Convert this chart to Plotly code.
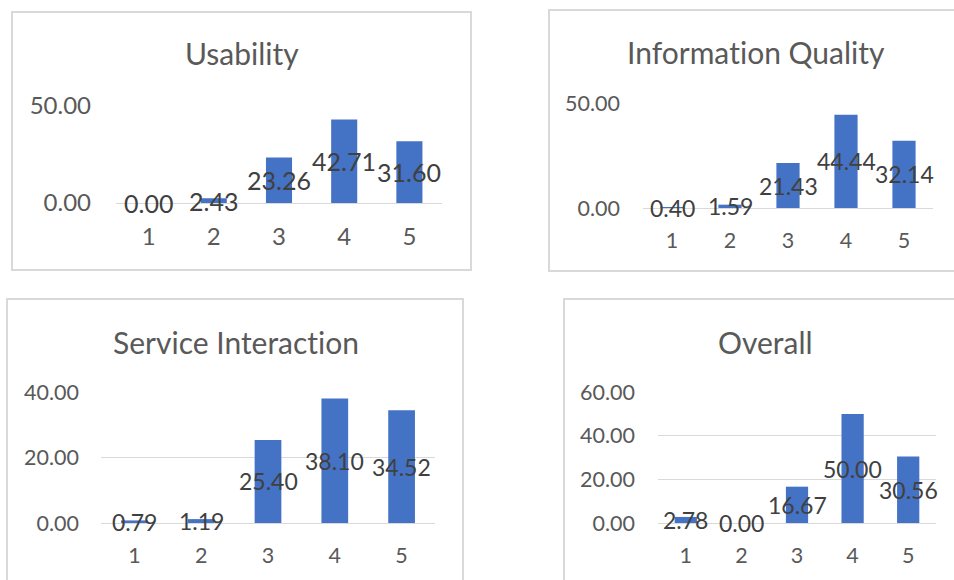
import plotly.graph_objects as go

W, H = 954, 580

# Rating scale shared by all four charts
ratings = [1, 2, 3, 4, 5]

# Percentage of responses per rating
usability = [0.00, 2.43, 23.26, 42.71, 31.60]
information_quality = [0.40, 1.59, 21.43, 44.44, 32.14]
service_interaction = [0.79, 1.19, 25.40, 38.10, 34.52]
overall = [2.78, 0.00, 16.67, 50.00, 30.56]

titles = ["Usability", "Information Quality", "Service Interaction", "Overall"]
series = [usability, information_quality, service_interaction, overall]
y_max = [50, 50, 40, 60]
y_step = [50, 50, 20, 20]

# Pixel layout of each chart: frame box, plot box, title centre
frames = [(12, 12, 471, 270), (549, 10, 962, 271), (7, 299, 463, 592), (564, 299, 962, 592)]
plots = [(116, 105, 442, 203), (643, 103, 933, 208), (101, 392, 435, 523), (658, 392, 936, 523)]
title_pos = [(242, 53), (756, 52), (236, 342), (765, 342)]
tick_size = [24, 21.5, 21.5, 21.5]
label_size = [25, 23, 23, 23]
y_standoff = [24, 22, 21, 22]

BAR = "#4472C4"
GRID = "#d9d9d9"
TICK = "#595959"
LABEL = "#404040"
FONT = "Lato"
TITLE_SIZE = 30


def px_x(v):
    return v / W


def px_y(v):
    return 1 - v / H


def no_ligature(s):
    # give each "t" before "i" its own text run so the font does not merge "ti"
    return s.replace("ti", f"<span style='font-size:{TITLE_SIZE - 0.1}px'>t</span>i")


fig = go.Figure()
layout = dict(
    width=W, height=H, margin=dict(l=0, r=0, t=0, b=0, pad=0, autoexpand=False),
    autosize=False,
    paper_bgcolor="white", plot_bgcolor="white",
    showlegend=False, font=dict(family=FONT, color=TICK),
    shapes=[], annotations=[],
)

for i, (name, vals) in enumerate(zip(titles, series)):
    n = "" if i == 0 else str(i + 1)
    xa, ya = "x" + n, "y" + n
    x0, y0, x1, y1 = plots[i]

    fig.add_trace(go.Bar(
        x=ratings, y=vals, width=0.4, marker=dict(color=BAR, line=dict(width=0)),
        xaxis=xa, yaxis=ya, hoverinfo="skip",
    ))

    # value labels centred on each bar
    for r, v in zip(ratings, vals):
        layout["annotations"].append(dict(
            text=f"{v:.2f}", xref=xa, yref=ya, x=r, y=v / 2,
            xanchor="center", yanchor="middle", showarrow=False,
            font=dict(family=FONT, size=label_size[i], color=LABEL),
        ))

    layout["xaxis" + n] = dict(
        domain=[px_x(x0), px_x(x1)], anchor=ya, range=[0.5, 5.5],
        tickvals=ratings, ticktext=[str(r) for r in ratings],
        showgrid=False, zeroline=False, showline=False, ticks="", automargin=False,
        tickfont=dict(family=FONT, size=tick_size[i], color=TICK), ticklabelstandoff=17,
    )
    layout["yaxis" + n] = dict(
        domain=[px_y(y1), px_y(y0)], anchor=xa, range=[0, y_max[i] * 1.002],
        tickvals=list(range(0, y_max[i] + 1, y_step[i])), automargin=False,
        tickformat=".2f", showgrid=True, gridcolor=GRID, gridwidth=1,
        zeroline=True, zerolinecolor=GRID, zerolinewidth=1, showline=False, ticks="",
        tickfont=dict(family=FONT, size=tick_size[i], color=TICK), ticklabelstandoff=y_standoff[i],
    )

    fx0, fy0, fx1, fy1 = frames[i]
    layout["shapes"].append(dict(
        type="rect", xref="paper", yref="paper",
        x0=px_x(fx0), x1=px_x(fx1), y0=px_y(fy1), y1=px_y(fy0),
        line=dict(color=GRID, width=2), fillcolor="rgba(0,0,0,0)", layer="below",
    ))
    tx, ty = title_pos[i]
    layout["annotations"].append(dict(
        text=no_ligature(name), xref="paper", yref="paper", x=px_x(tx), y=px_y(ty),
        xanchor="center", yanchor="middle", showarrow=False,
        font=dict(family=FONT, size=TITLE_SIZE, color=TICK),
    ))

fig.update_layout(**layout)
fig.write_html("out.html")
